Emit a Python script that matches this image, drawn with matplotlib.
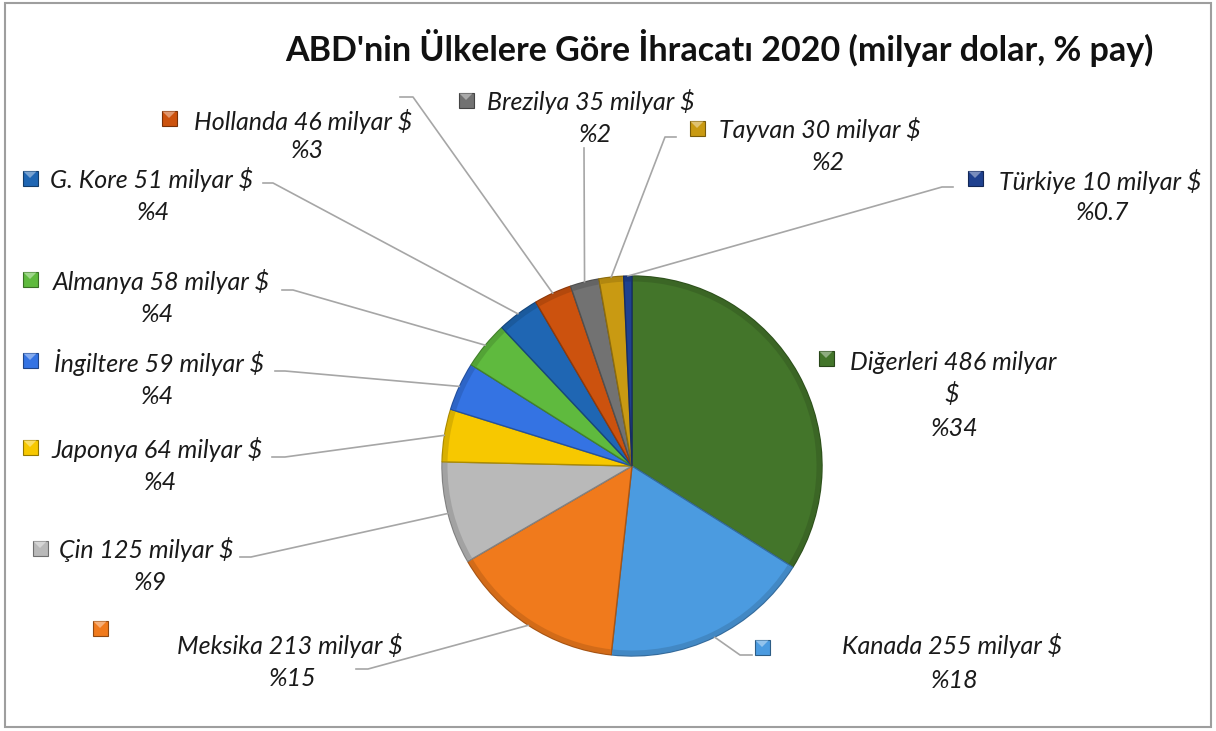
import matplotlib.pyplot as plt
from matplotlib.patches import Rectangle, Polygon, Wedge
import numpy as np

plt.rcParams['font.family'] = ['Lato', 'DejaVu Sans']

# data
ulkeler = ['Diğerleri', 'Kanada', 'Meksika', 'Çin', 'Japonya', 'İngiltere',
           'Almanya', 'G. Kore', 'Hollanda', 'Brezilya', 'Tayvan', 'Türkiye']
degerler = [486, 255, 213, 125, 64, 59, 58, 51, 46, 35, 30, 10]
yuzdeler = ['34', '18', '15', '9', '4', '4', '4', '4', '3', '2', '2', '0.7']
renkler = ['#43752a', '#4b9be0', '#f07a1c', '#b9b9b9', '#f7c800', '#3473e3',
           '#5fba3e', '#1f66b3', '#cc520e', '#727272', '#c99a12', '#1f418f']

baslik = "ABD'nin Ülkelere Göre İhracatı 2020 (milyar dolar, % pay)"

# layout (pixel coords, y down)
merkez = (632, 466)
yaricap = 190
# label: (first line center x, y, pct center x, pct y, marker x, marker y)
etiket_yer = {
    'Diğerleri': (953, 362, 955, 428, 826, 358),
    'Kanada': (952, 646, 955, 680, 762, 647),
    'Meksika': (290, 645, 293, 678, 100, 628),
    'Çin': (146, 550, 150, 582, 40, 548),
    'Japonya': (157, 450, 160, 482, 30, 447),
    'İngiltere': (159, 363, 157, 396, 30, 360),
    'Almanya': (161, 281, 157, 314, 30, 279),
    'G. Kore': (152, 180, 153, 212, 30, 178),
    'Hollanda': (303, 122, 307, 150, 169, 118),
    'Brezilya': (591, 101, 595, 135, 466, 100),
    'Tayvan': (820, 130, 828, 162, 697, 128),
    'Türkiye': (1100, 181, 1103, 213, 975, 178),
}
# leader elbows: (start point, elbow point)
cizgi_yer = {
    'Türkiye': [(953, 187), (942, 187)],
    'Tayvan': [(676, 137), (665, 137)],
    'Brezilya': [(584, 148), (584, 150)],
    'Hollanda': [(400, 97), (413, 97)],
    'G. Kore': [(263, 183), (273, 183)],
    'Almanya': [(282, 290), (293, 290)],
    'İngiltere': [(275, 371), (285, 371)],
    'Japonya': [(272, 457), (285, 457)],
    'Çin': [(240, 557), (251, 557)],
    'Meksika': [(356, 669), (368, 669)],
    'Kanada': [(752, 655), (740, 655)],
}


def koyu(renk, f=0.7):
    r, g, b = plt.matplotlib.colors.to_rgb(renk)
    return (r * f, g * f, b * f)


def acik(renk, f=0.45):
    r, g, b = plt.matplotlib.colors.to_rgb(renk)
    return (r + (1 - r) * f, g + (1 - g) * f, b + (1 - b) * f)


fig = plt.figure(figsize=(12.16, 7.31), dpi=100)
ax = fig.add_axes([0, 0, 1, 1])

# y axis inverted -> startangle -90 is top, counterclock=True is clockwise on screen
wedges, _ = ax.pie(degerler, colors=renkler, center=merkez, radius=yaricap,
                   startangle=-90, counterclock=True, frame=True,
                   wedgeprops=dict(linewidth=1.0))
for w, c in zip(wedges, renkler):
    w.set_edgecolor(koyu(c, 0.7))
    # soft bevel: slightly darker outer rim
    ax.add_patch(Wedge(merkez, yaricap - 0.5, w.theta1 + 0.3, w.theta2 - 0.3, width=5,
                       facecolor=koyu(c, 0.85), edgecolor='none', alpha=0.8, zorder=2))

ax.set_xlim(0, 1216)
ax.set_ylim(731, 0)
ax.set_aspect('auto')
ax.axis('off')

# leader lines
for ad, w in zip(ulkeler, wedges):
    if ad not in cizgi_yer:
        continue
    orta = np.deg2rad((w.theta1 + w.theta2) / 2)
    uc = (merkez[0] + yaricap * np.cos(orta), merkez[1] + yaricap * np.sin(orta))
    noktalar = cizgi_yer[ad] + [uc]
    xs = [p[0] for p in noktalar]
    ys = [p[1] for p in noktalar]
    ax.plot(xs, ys, color='#a6a6a6', lw=1.2, zorder=1)

# labels
fs = 18
for ad, deger, yuzde, renk in zip(ulkeler, degerler, yuzdeler, renkler):
    x1, y1, x2, y2, mx, my = etiket_yer[ad]
    s = 15
    ax.add_patch(Rectangle((mx - s / 2, my - s / 2), s, s, facecolor=renk,
                           edgecolor=koyu(renk, 0.6), lw=0.8, zorder=3))
    ax.add_patch(Polygon([(mx - s / 2 + 1, my - s / 2 + 1), (mx + s / 2 - 1, my - s / 2 + 1), (mx, my)],
                         closed=True, facecolor=acik(renk, 0.4), edgecolor='none', zorder=4))
    if ad == 'Diğerleri':
        ax.text(x1, y1, f'{ad} {deger} milyar', fontsize=fs, style='italic',
                ha='center', va='center', color='#1a1a1a')
        ax.text(952, 394, '$', fontsize=fs, style='italic',
                ha='center', va='center', color='#1a1a1a')
    else:
        ax.text(x1, y1, f'{ad} {deger} milyar $', fontsize=fs, style='italic',
                ha='center', va='center', color='#1a1a1a')
    ax.text(x2, y2, '%' + yuzde, fontsize=fs, style='italic',
            ha='center', va='center', color='#1a1a1a')

ax.text(719, 48, baslik, fontsize=24.5, fontweight='bold', ha='center', va='center',
        color='#111111')

fig.patches.append(Rectangle((5, 4), 1206, 724, transform=None, fill=False,
                             edgecolor='#9e9e9e', lw=1.5))

fig.savefig('out.png', dpi=100)
